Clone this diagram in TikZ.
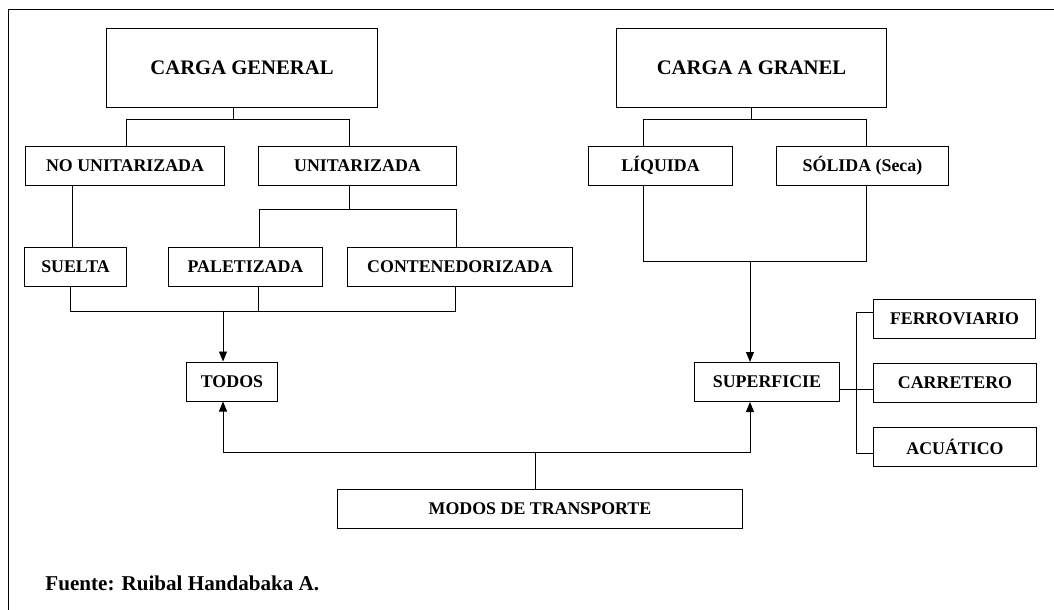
\documentclass[tikz,border=0pt]{standalone}
\usepackage{fontspec}
\setmainfont{Liberation Serif}
\usetikzlibrary{arrows.meta}

\begin{document}
\begin{tikzpicture}[x=0.025cm, y=-0.025cm, line width=0.7pt,
    box/.style={draw, inner sep=0pt, minimum height=0.975cm,
      font=\bfseries\fontsize{12.7}{14}\selectfont},
    bigbox/.style={box, minimum height=1.95cm,
      font=\bfseries\fontsize{14.7}{16}\selectfont},
    >={Triangle[length=2.5mm, width=2mm]}]
      \useasboundingbox (0,0) rectangle (1054,610);
      \draw (8,610) -- (8,9) -- (1054,9);

      \node[bigbox, minimum width=6.75cm] (cg) at (242,68) {CARGA GENERAL};
      \node[bigbox, minimum width=6.725cm] (cag) at (751.5,68) {CARGA A GRANEL};

      \node[box, minimum width=4.95cm] (nu) at (125,165.5) {NO UNITARIZADA};
      \node[box, minimum width=4.925cm] (un) at (357.5,165.5) {UNITARIZADA};
      \node[box, minimum width=3.575cm] (li) at (660.5,165.5) {LÍQUIDA};
      \node[box, minimum width=4.275cm] (so) at (862.5,166) {SÓLIDA (Seca)};

      \node[box, minimum width=2.525cm] (su) at (75.5,266.5) {SUELTA};
      \node[box, minimum width=3.825cm] (pa) at (245.5,266.5) {PALETIZADA};
      \node[box, minimum width=5.6cm] (co) at (460,266.5) {CONTENEDORIZADA};

      \node[box, minimum width=2.25cm] (to) at (232,381.5) {TODOS};
      \node[box, minimum width=3.6cm] (sp) at (767,382) {SUPERFICIE};

      \node[box, minimum width=4.025cm] (fe) at (954.5,318.5) {FERROVIARIO};
      \node[box, minimum width=4.05cm] (ca) at (955,383) {CARRETERO};
      \node[box, minimum width=4.05cm] (ac) at (955,447) {ACUÁTICO};

      \node[box, minimum width=10.1cm] (mo) at (540,508.5) {MODOS DE TRANSPORTE};

      \node[anchor=base west, inner sep=0pt, font=\bfseries\fontsize{15}{17}\selectfont]
        (src) at (45,590) {Fuente: Ruibal Handabaka A.};

      % carga general
      \coordinate (g1) at (233,119);
      \coordinate (g1l) at (126,119);
      \coordinate (g1r) at (349,119);
      \draw (cg.south -| g1) -- (g1);
      \draw (nu.north -| g1l) |- (g1r) -- (un.north -| g1r);

      \coordinate (n1) at (72,200);
      \draw (nu.south -| n1) -- (su.north -| n1);

      \coordinate (u1) at (349,209);
      \coordinate (u1l) at (259,209);
      \coordinate (u1r) at (456,209);
      \draw (un.south -| u1) -- (u1);
      \draw (pa.north -| u1l) |- (u1r) -- (co.north -| u1r);

      \coordinate (b1l) at (70,311);
      \coordinate (b1m) at (258,311);
      \coordinate (b1r) at (455,311);
      \coordinate (b1t) at (223,311);
      \draw (su.south -| b1l) |- (b1r) -- (co.south -| b1r);
      \draw (pa.south -| b1m) -- (b1m);
      \draw[->] (b1t) -- (to.north -| b1t);

      % carga a granel
      \coordinate (g2) at (751,119);
      \coordinate (g2l) at (643,119);
      \coordinate (g2r) at (866,119);
      \draw (cag.south -| g2) -- (g2);
      \draw (li.north -| g2l) |- (g2r) -- (so.north -| g2r);

      \coordinate (s1m) at (750,261);
      \coordinate (s1l) at (643,261);
      \coordinate (s1r) at (866,261);
      \draw (li.south -| s1l) |- (s1r) -- (so.south -| s1r);
      \draw[->] (s1m) -- (sp.north -| s1m);

      % modos de transporte
      \coordinate (m1) at (535,452);
      \coordinate (m1l) at (223,452);
      \coordinate (m1r) at (750,452);
      \draw (mo.north -| m1) -- (m1);
      \draw[->] (m1) -| (to.south -| m1l);
      \draw[->] (m1) -| (sp.south -| m1r);

      % superficie
      \coordinate (r1) at (856,389);
      \coordinate (r2) at (856,312);
      \coordinate (r3) at (856,453);
      \draw (sp.east |- r1) -- (ca.west |- r1);
      \draw (fe.west |- r2) -- (r2) -- (r3) -- (ac.west |- r3);
\end{tikzpicture}
\end{document}
